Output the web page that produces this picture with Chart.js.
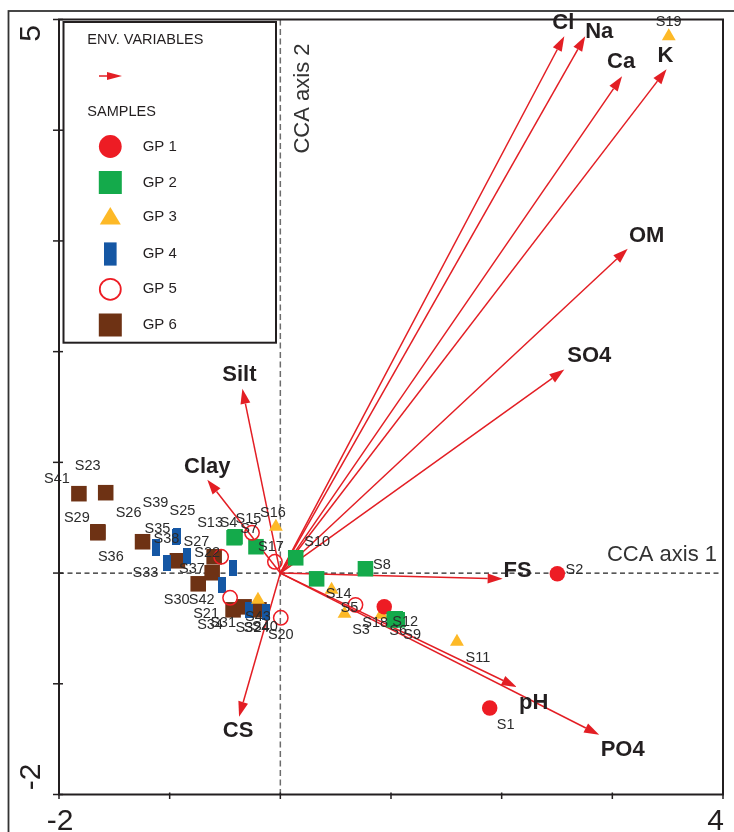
<!DOCTYPE html>
<html><head><meta charset="utf-8">
<script src="https://cdn.jsdelivr.net/npm/chart.js@4.4.1/dist/chart.umd.min.js"></script>
<style>
html,body{margin:0;padding:0;background:#fff;}
#wrap{position:relative;width:734px;height:832px;overflow:hidden;background:#fff;}
canvas{display:block;}
</style></head><body>
<div id="wrap"><canvas id="c" width="734" height="832"></canvas></div>
<script>
// ---------- data ----------
const xTicks = [-2, -1, 0, 1, 2, 3, 4];
const xTickLabels = ['-2', '', '', '', '', '', '4'];
const yTicks = [-2, -1, 0, 1, 2, 3, 4, 5];
const yTickLabels = ['-2', '', '', '', '', '', '', '5'];

const envNames = ['Cl', 'Na', 'Ca', 'K', 'OM', 'SO4', 'FS', 'pH', 'PO4', 'CS', 'Clay', 'Silt'];
const envX = [2.566, 2.755, 3.088, 3.490, 3.139, 2.566, 2.009, 2.135, 2.881, -0.373, -0.660, -0.343];
const envY = [4.849, 4.849, 4.487, 4.551, 2.929, 1.838, -0.052, -1.029, -1.461, -1.297, 0.844, 1.664];

const gp1Names = ['S2', 'S1', 'S18'];
const gp1X = [2.503, 1.892, 0.939];
const gp1Y = [-0.006, -1.218, -0.305];

const gp2Names = ['S8', 'S10', 'S12', 'S6', 'S9', '', 'S4', 'S13', 'S15'];
const gp2X = [0.769, 0.139, 1.038, 1.029, 1.056, 0.328, -0.409, -0.418, -0.220];
const gp2Y = [0.039, 0.138, -0.413, -0.422, -0.422, -0.052, 0.328, 0.319, 0.238];

const gp3Names = ['S19', 'S16', 'S14', 'S3', 'S11', 'S43', ''];
const gp3X = [3.510, -0.040, 0.463, 0.580, 1.596, -0.202, 0.912];
const gp3Y = [4.849, 0.419, -0.151, -0.368, -0.621, -0.241, -0.377];

const gp4Names = ['S25', 'S39', 'S35', 'S38', 'S33', 'S27', '', '', 'S24', 'S40'];
const gp4X = [-0.930, -0.939, -1.128, -1.119, -1.020, -0.840, -0.427, -0.526, -0.283, -0.130];
const gp4Y = [0.337, 0.328, 0.238, 0.229, 0.093, 0.156, 0.048, -0.106, -0.332, -0.350];

const gp5Names = ['S22', 'S7', 'S17', 'S31', 'S20', 'S5'];
const gp5X = [-0.535, -0.256, -0.049, -0.454, 0.004, 0.679];
const gp5Y = [0.147, 0.364, 0.102, -0.223, -0.404, -0.287];

const gp6Names = ['S41', 'S23', 'S29', 'S36', 'S26', 'S37', '', 'S42', 'S30', 'S21', 'S34', 'S32'];
const gp6X = [-1.820, -1.578, -1.649, -1.649, -1.245, -0.930, -0.598, -0.616, -0.742, -0.427, -0.328, -0.193];
const gp6Y = [0.717, 0.726, 0.373, 0.364, 0.283, 0.111, 0.147, 0.003, -0.097, -0.332, -0.305, -0.332];

// ---------- label placement (pixel offsets, styling only) ----------
const labelOffsets = {
  S2: [17, -4], S1: [16, 17], S18: [-9, 16],
  S8: [16.5, -4], S10: [21.5, -16], S12: [10, 3], S6: [4, 11], S9: [15, 15],
  S4: [-6.5, -14], S13: [-24, -15], S15: [-7.5, -28],
  S19: [0, -14], S16: [-3, -14], S14: [7, 4], S3: [16.5, 16], S11: [21, 16], S43: [0, 17],
  S25: [5, -25], S39: [-21, -34], S35: [2, -18], S38: [10, -9], S33: [-22, 10], S27: [9, -14],
  S24: [7.5, 18], S40: [-1, 15],
  S22: [-14, -4], S7: [-3, -4], S17: [-4, -15], S31: [-7, 25], S20: [0, 17], S5: [-6, 3],
  S41: [-22, -15], S23: [-18, -27], S29: [-21, -14], S36: [13, 24], S26: [-14, -29],
  S37: [14.5, 8], S42: [-10.5, 27], S30: [-21.5, 16], S21: [-27, 4.5], S34: [-34, 18], S32: [-10.5, 18]
};
const envLabelOffsets = {
  Cl: [-1, -13], Na: [14, -4], Ca: [-1, -14], K: [-1, -13], OM: [19, -13], SO4: [25, -14],
  FS: [15, -8], pH: [17, 16], PO4: [23.5, 15.5], CS: [-1, 14], Clay: [0, -13], Silt: [-3, -14]
};

// ---------- styles ----------
const RED = '#ED1C24', GREEN = '#14AA4B', YELLOW = '#FDB927', BLUE = '#1557A4', BROWN = '#6E3214';
const ARROW = '#E31E24', INK = '#231F20';
const FONT = '"Liberation Sans", Arial, Helvetica, sans-serif';

function rectCanvas(w, h, color) {
  const c = document.createElement('canvas');
  c.width = w; c.height = h;
  const g = c.getContext('2d');
  g.fillStyle = color; g.fillRect(0, 0, w, h);
  return c;
}
const blueBar = rectCanvas(8, 16, BLUE);

function pts(xs, ys) { return xs.map((x, i) => ({ x: x, y: ys[i] })); }

const datasets = [
  { label: 'GP 1', names: gp1Names, data: pts(gp1X, gp1Y), pointStyle: 'circle', pointRadius: 7.75,
    backgroundColor: RED, borderWidth: 0, order: 3 },
  { label: 'GP 2', names: gp2Names, data: pts(gp2X, gp2Y), pointStyle: 'rect', pointRadius: 11,
    backgroundColor: GREEN, borderWidth: 0, order: 2 },
  { label: 'GP 3', names: gp3Names, data: pts(gp3X, gp3Y), pointStyle: 'triangle', pointRadius: 8,
    backgroundColor: YELLOW, borderWidth: 0, order: 4 },
  { label: 'GP 4', names: gp4Names, data: pts(gp4X, gp4Y), pointStyle: blueBar, pointRadius: 8,
    backgroundColor: BLUE, borderWidth: 0, order: 5 },
  { label: 'GP 5', names: gp5Names, data: pts(gp5X, gp5Y), pointStyle: 'circle', pointRadius: 7.2,
    backgroundColor: 'rgba(0,0,0,0)', borderColor: RED, borderWidth: 1.5, order: 1 },
  { label: 'GP 6', names: gp6Names, data: pts(gp6X, gp6Y), pointStyle: 'rect', pointRadius: 11,
    backgroundColor: BROWN, borderWidth: 0, order: 6 }
].map(d => Object.assign(d, { showLine: false, clip: false, pointHoverRadius: d.pointRadius }));

function arrowHead(ctx, x0, y0, x1, y1, len, hw) {
  const a = Math.atan2(y1 - y0, x1 - x0);
  const bx = x1 - len * Math.cos(a), by = y1 - len * Math.sin(a);
  ctx.beginPath();
  ctx.moveTo(x1, y1);
  ctx.lineTo(bx + hw * Math.sin(a), by - hw * Math.cos(a));
  ctx.lineTo(bx - hw * Math.sin(a), by + hw * Math.cos(a));
  ctx.closePath();
  ctx.fill();
  return [bx, by];
}

const backPlugin = {
  id: 'back',
  beforeDatasetsDraw(chart) {
    const ctx = chart.ctx, xs = chart.scales.x, ys = chart.scales.y, a = chart.chartArea;
    const x0 = xs.getPixelForValue(0), y0 = ys.getPixelForValue(0);
    ctx.save();
    // outer frame
    ctx.strokeStyle = '#333'; ctx.lineWidth = 1.8;
    ctx.strokeRect(8.5, 11, 760, 860);
    // zero lines
    ctx.lineWidth = 1.5; ctx.strokeStyle = '#6d6d6d'; ctx.setLineDash([6, 3.5]);
    ctx.beginPath(); ctx.moveTo(x0, a.top); ctx.lineTo(x0, a.bottom); ctx.stroke();
    ctx.lineWidth = 1.2; ctx.strokeStyle = '#222'; ctx.setLineDash([5, 3.5]);
    ctx.beginPath(); ctx.moveTo(a.left, y0); ctx.lineTo(a.right, y0); ctx.stroke();
    ctx.setLineDash([]);
    // arrows
    ctx.strokeStyle = ARROW; ctx.fillStyle = ARROW; ctx.lineWidth = 1.5;
    envNames.forEach((n, i) => {
      const x1 = xs.getPixelForValue(envX[i]), y1 = ys.getPixelForValue(envY[i]);
      const b = arrowHead(ctx, x0, y0, x1, y1, 15, 5);
      ctx.beginPath(); ctx.moveTo(x0, y0); ctx.lineTo(b[0], b[1]); ctx.stroke();
    });
    ctx.restore();
  },
  afterDatasetsDraw(chart) {
    const ctx = chart.ctx, xs = chart.scales.x, ys = chart.scales.y, a = chart.chartArea;
    ctx.save();
    // sample labels
    ctx.font = '14.5px ' + FONT; ctx.fillStyle = '#2b2b2b';
    ctx.textAlign = 'center'; ctx.textBaseline = 'middle';
    chart.data.datasets.forEach((ds, i) => {
      const meta = chart.getDatasetMeta(i);
      meta.data.forEach((el, j) => {
        const name = ds.names[j], off = labelOffsets[name];
        if (!name || !off) return;
        ctx.fillText(name, el.x + off[0], el.y + off[1]);
      });
    });
    // env labels
    ctx.font = 'bold 22px ' + FONT; ctx.fillStyle = INK;
    envNames.forEach((n, i) => {
      const off = envLabelOffsets[n];
      ctx.fillText(n, xs.getPixelForValue(envX[i]) + off[0], ys.getPixelForValue(envY[i]) + off[1]);
    });
    // axis names
    ctx.font = '22px ' + FONT; ctx.fillStyle = '#333';
    ctx.textAlign = 'right';
    ctx.fillText('CCA axis 1', 717, ys.getPixelForValue(0) - 18.5);
    ctx.save();
    ctx.translate(xs.getPixelForValue(0) + 23, 98.5);
    ctx.rotate(-Math.PI / 2);
    ctx.textAlign = 'center';
    ctx.fillText('CCA axis 2', 0, 0);
    ctx.restore();
    // plot frame
    ctx.strokeStyle = INK; ctx.lineWidth = 2;
    ctx.strokeRect(a.left, a.top, a.right - a.left, a.bottom - a.top);
    // ticks
    ctx.lineWidth = 1.5;
    yTicks.forEach(v => {
      const y = ys.getPixelForValue(v);
      ctx.beginPath(); ctx.moveTo(a.left - 6, y); ctx.lineTo(a.left + 4, y); ctx.stroke();
    });
    xTicks.forEach(v => {
      const x = xs.getPixelForValue(v);
      ctx.beginPath(); ctx.moveTo(x, a.bottom - 2); ctx.lineTo(x, a.bottom + 4.5); ctx.stroke();
    });
    // tick labels
    ctx.font = '30px ' + FONT; ctx.fillStyle = INK; ctx.textBaseline = 'alphabetic';
    xTicks.forEach((v, i) => {
      const t = xTickLabels[i]; if (!t) return;
      const x = xs.getPixelForValue(v);
      if (i === xTicks.length - 1) { ctx.textAlign = 'right'; ctx.fillText(t, x + 1, 830); }
      else { ctx.textAlign = 'center'; ctx.fillText(t, x + 1, 830); }
    });
    yTicks.forEach((v, i) => {
      const t = yTickLabels[i]; if (!t) return;
      const y = ys.getPixelForValue(v);
      ctx.save();
      ctx.translate(31.5, v > 0 ? y + 14 : y - 17.5);
      ctx.rotate(-Math.PI / 2);
      ctx.textAlign = 'center'; ctx.textBaseline = 'middle';
      ctx.fillText(t, 0, 0);
      ctx.restore();
    });
    // legend
    drawLegend(ctx, chart);
    ctx.restore();
  }
};

function drawLegend(ctx, chart) {
  ctx.save();
  ctx.fillStyle = '#fff';
  ctx.fillRect(63.5, 22, 212.5, 320.7);
  ctx.strokeStyle = INK; ctx.lineWidth = 2;
  ctx.strokeRect(63.5, 22, 212.5, 320.7);
  ctx.fillStyle = INK; ctx.font = '14.5px ' + FONT;
  ctx.textAlign = 'left'; ctx.textBaseline = 'middle';
  ctx.fillText('ENV. VARIABLES', 87.3, 40);
  ctx.fillText('SAMPLES', 87.3, 111.7);
  // arrow symbol
  ctx.strokeStyle = ARROW; ctx.fillStyle = ARROW; ctx.lineWidth = 1.5;
  const b = arrowHead(ctx, 99, 76, 122, 76, 15, 4);
  ctx.beginPath(); ctx.moveTo(99, 76); ctx.lineTo(b[0] + 1, 76); ctx.stroke();
  const cx = 110.3;
  const ys = [146.5, 182.5, 216, 254, 289.3, 325];
  const ds = chart.data.datasets;
  // GP1
  ctx.fillStyle = ds[0].backgroundColor;
  ctx.beginPath(); ctx.arc(cx, ys[0], 11.4, 0, Math.PI * 2); ctx.fill();
  // GP2
  ctx.fillStyle = ds[1].backgroundColor;
  ctx.fillRect(cx - 11.5, ys[1] - 11.5, 23, 23);
  // GP3
  ctx.fillStyle = ds[2].backgroundColor;
  ctx.beginPath(); ctx.moveTo(cx, ys[2] - 9); ctx.lineTo(cx + 10.5, ys[2] + 8.5); ctx.lineTo(cx - 10.5, ys[2] + 8.5);
  ctx.closePath(); ctx.fill();
  // GP4
  ctx.fillStyle = ds[3].backgroundColor;
  ctx.fillRect(cx - 6.3, ys[3] - 11.6, 12.6, 23.2);
  // GP5
  ctx.strokeStyle = ds[4].borderColor; ctx.lineWidth = 1.8;
  ctx.beginPath(); ctx.arc(cx, ys[4], 10.5, 0, Math.PI * 2); ctx.stroke();
  // GP6
  ctx.fillStyle = ds[5].backgroundColor;
  ctx.fillRect(cx - 11.5, ys[5] - 11.5, 23, 23);
  // texts
  ctx.fillStyle = INK; ctx.font = '15px ' + FONT;
  ds.forEach((d, i) => ctx.fillText(d.label, 142.7, ys[i] + (i === 2 ? 1 : 0)));
  ctx.restore();
}

new Chart(document.getElementById('c'), {
  type: 'scatter',
  data: { datasets: datasets },
  options: {
    responsive: false,
    animation: false,
    events: [],
    devicePixelRatio: 1,
    layout: { padding: { left: 59, top: 19.5, right: 7.5, bottom: 37.5 } },
    plugins: { legend: { display: false }, tooltip: { enabled: false } },
    scales: {
      x: { type: 'linear', min: -2, max: 4, display: false },
      y: { type: 'linear', min: -2, max: 5, display: false }
    }
  },
  plugins: [backPlugin]
});
</script>
</body></html>
